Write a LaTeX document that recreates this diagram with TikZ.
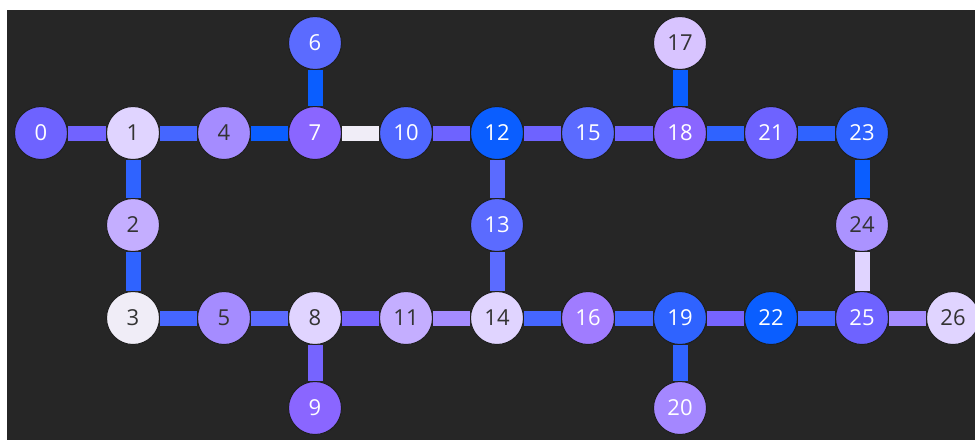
\documentclass[tikz,border=0pt]{standalone}
\usepackage{fontspec}
\setmainfont{Open Sans}
\usepackage{tikz}
\usetikzlibrary{positioning}
\definecolor{bgdark}{HTML}{262626}
\definecolor{qA}{HTML}{0A5EFF}
\definecolor{qB}{HTML}{2F63FF}
\definecolor{qC}{HTML}{4F67FF}
\definecolor{qD}{HTML}{5B6BFF}
\definecolor{qE}{HTML}{6E63FF}
\definecolor{qF}{HTML}{8A66FF}
\definecolor{qG}{HTML}{A07CFF}
\definecolor{qH}{HTML}{A58CFF}
\definecolor{qI}{HTML}{C4AEFF}
\definecolor{qJ}{HTML}{D8C4FF}
\definecolor{qK}{HTML}{E0D4FF}
\definecolor{qL}{HTML}{F0EDF7}
\definecolor{txtdark}{HTML}{333333}
\tikzset{
    qubit/.style={circle, draw=bgdark!80!black, line width=1pt, minimum size=53pt, inner sep=0pt, text=white, font=\fontsize{22}{22}\selectfont},
    qubitlt/.style={qubit, text=txtdark},
    coupler/.style={line width=15pt}
}

\begin{document}
\begin{tikzpicture}[x=1pt, y=-1pt]
    \useasboundingbox (0,0) rectangle (975,440);
    \fill[white] (0,0) rectangle (975,440);
    \fill[bgdark] (7,10) rectangle (975,440);

    % Qubits, top row
    \node[qubit, fill=qD] (q6) at (315,43) {6};
    \node[qubitlt, fill=qJ] (q17) at (680,43) {17};
    % second row
    \node[qubit, fill=qE] (q0) at (41,133) {0};
    \node[qubitlt, fill=qK] (q1) at (133,133) {1};
    \node[qubitlt, fill=qH] (q4) at (224,133) {4};
    \node[qubit, fill=qF] (q7) at (315,133) {7};
    \node[qubit, fill=qC] (q10) at (406,133) {10};
    \node[qubit, fill=qA] (q12) at (497,133) {12};
    \node[qubit, fill=qD] (q15) at (588,133) {15};
    \node[qubit, fill=qF] (q18) at (680,133) {18};
    \node[qubit, fill=qE] (q21) at (771,133) {21};
    \node[qubit, fill=qB] (q23) at (862,133) {23};
    % middle row
    \node[qubitlt, fill=qI] (q2) at (133,225) {2};
    \node[qubit, fill=qD] (q13) at (497,225) {13};
    \node[qubitlt, fill=qH!80!qI] (q24) at (862,225) {24};
    % fourth row
    \node[qubitlt, fill=qL] (q3) at (133,318) {3};
    \node[qubitlt, fill=qH] (q5) at (224,318) {5};
    \node[qubitlt, fill=qK] (q8) at (315,318) {8};
    \node[qubitlt, fill=qI] (q11) at (406,318) {11};
    \node[qubitlt, fill=qK] (q14) at (497,318) {14};
    \node[qubit, fill=qG] (q16) at (588,318) {16};
    \node[qubit, fill=qB] (q19) at (680,318) {19};
    \node[qubit, fill=qA] (q22) at (771,318) {22};
    \node[qubit, fill=qE] (q25) at (862,318) {25};
    \node[qubitlt, fill=qK] (q26) at (953,318) {26};
    % bottom row
    \node[qubit, fill=qF] (q9) at (315,408) {9};
    \node[qubit, fill=qH!70!qG] (q20) at (680,408) {20};

    % Couplers, upper line
    \draw[coupler, qE!90!qF] (q0) -- (q1);
    \draw[coupler, qC!70!qB] (q1) -- (q4);
    \draw[coupler, qA] (q4) -- (q7);
    \draw[coupler, qA] (q6) -- (q7);
    \draw[coupler, qL] (q7) -- (q10);
    \draw[coupler, qE] (q10) -- (q12);
    \draw[coupler, qE] (q12) -- (q15);
    \draw[coupler, qE] (q15) -- (q18);
    \draw[coupler, qA] (q17) -- (q18);
    \draw[coupler, qB] (q18) -- (q21);
    \draw[coupler, qB] (q21) -- (q23);

    % Couplers, vertical
    \draw[coupler, qB] (q1) -- (q2);
    \draw[coupler, qB] (q2) -- (q3);
    \draw[coupler, qD] (q12) -- (q13);
    \draw[coupler, qD] (q13) -- (q14);
    \draw[coupler, qA] (q23) -- (q24);
    \draw[coupler, qK] (q24) -- (q25);

    % Couplers, lower line
    \draw[coupler, qC!70!qB] (q3) -- (q5);
    \draw[coupler, qD] (q5) -- (q8);
    \draw[coupler, qE!70!qF] (q8) -- (q11);
    \draw[coupler, qH] (q11) -- (q14);
    \draw[coupler, qE!70!qF] (q8) -- (q9);
    \draw[coupler, qC!70!qB] (q14) -- (q16);
    \draw[coupler, qC!70!qB] (q16) -- (q19);
    \draw[coupler, qB] (q19) -- (q20);
    \draw[coupler, qE!70!qF] (q19) -- (q22);
    \draw[coupler, qC!70!qB] (q22) -- (q25);
    \draw[coupler, qH] (q25) -- (q26);
\end{tikzpicture}
\end{document}
